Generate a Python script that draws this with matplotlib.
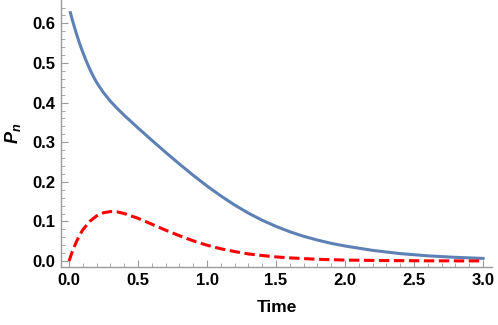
import matplotlib
matplotlib.use("Agg")
import matplotlib.pyplot as plt
from matplotlib.ticker import MultipleLocator, FormatStrFormatter

# values
t_blue = [0.01, 0.025, 0.05, 0.075, 0.1, 0.125, 0.15, 0.175, 0.2, 0.25, 0.3,
          0.35, 0.4, 0.5, 0.6, 0.7, 0.8, 0.9, 1.0, 1.1, 1.2, 1.3, 1.4, 1.5,
          1.6, 1.7, 1.8, 1.9, 2.0, 2.2, 2.4, 2.6, 2.8, 3.0]
p_blue = [0.627, 0.6075, 0.578, 0.551, 0.527, 0.505, 0.485, 0.467, 0.451,
          0.425, 0.4035, 0.385, 0.368, 0.336, 0.305, 0.2745, 0.245, 0.2165,
          0.1895, 0.1645, 0.1415, 0.121, 0.103, 0.0875, 0.074, 0.0625, 0.053,
          0.0447, 0.038, 0.027, 0.0188, 0.0132, 0.0094, 0.0067]

t_red = [0.0, 0.025, 0.05, 0.075, 0.1, 0.15, 0.2, 0.25, 0.3, 0.35, 0.4, 0.5,
         0.6, 0.7, 0.8, 0.9, 1.0, 1.1, 1.2, 1.3, 1.4, 1.5, 1.6, 1.8, 2.0,
         2.3, 2.6, 3.0]
p_red = [0.0, 0.025, 0.046, 0.064, 0.079, 0.100, 0.114, 0.122, 0.125, 0.124,
         0.120, 0.108, 0.093, 0.078, 0.064, 0.051, 0.040, 0.031, 0.024, 0.018,
         0.014, 0.0105, 0.008, 0.0045, 0.0025, 0.0012, 0.0006, 0.0003]

AX_GRAY = "#9a9a9a"

plt.rcParams["font.family"] = ["Liberation Sans", "DejaVu Sans"]
plt.rcParams["mathtext.fontset"] = "custom"
plt.rcParams["mathtext.it"] = "Liberation Sans:bold:italic"
plt.rcParams["mathtext.rm"] = "Liberation Sans:bold"

fig = plt.figure(figsize=(4.98, 3.25), dpi=100)
fig.patch.set_facecolor("white")
ax = fig.add_axes([61 / 498, 1 - 267 / 325, (492 - 61) / 498, 267 / 325])

ax.plot(t_blue, p_blue, color="#5E81B5", lw=2.2, solid_joinstyle="round")
ax.plot(t_red, p_red, color="red", lw=2.2, dashes=(3.4, 1.5),
        dash_joinstyle="round")

ax.set_xlim(-0.058, 3.065)
ax.set_ylim(-0.015, 0.659)

for side in ("top", "right"):
    ax.spines[side].set_visible(False)
for side in ("left", "bottom"):
    ax.spines[side].set_color(AX_GRAY)
    ax.spines[side].set_linewidth(1.0)

ax.xaxis.set_major_locator(MultipleLocator(0.5))
ax.xaxis.set_minor_locator(MultipleLocator(0.1))
ax.yaxis.set_major_locator(MultipleLocator(0.1))
ax.yaxis.set_minor_locator(MultipleLocator(0.02))
ax.xaxis.set_major_formatter(FormatStrFormatter("%.1f"))
ax.yaxis.set_major_formatter(FormatStrFormatter("%.1f"))

ax.tick_params(which="major", direction="in", length=5, width=0.8,
               color=AX_GRAY, labelsize=12, pad=4)
ax.tick_params(which="minor", direction="in", length=3, width=0.6,
               color=AX_GRAY)
for lab in ax.get_xticklabels() + ax.get_yticklabels():
    lab.set_fontweight("bold")

ax.set_xlabel("Time", fontsize=12.5, fontweight="bold", labelpad=9)
ax.set_ylabel(r"$P_n$", fontsize=13, labelpad=7)

fig.savefig("out.png", dpi=100)
